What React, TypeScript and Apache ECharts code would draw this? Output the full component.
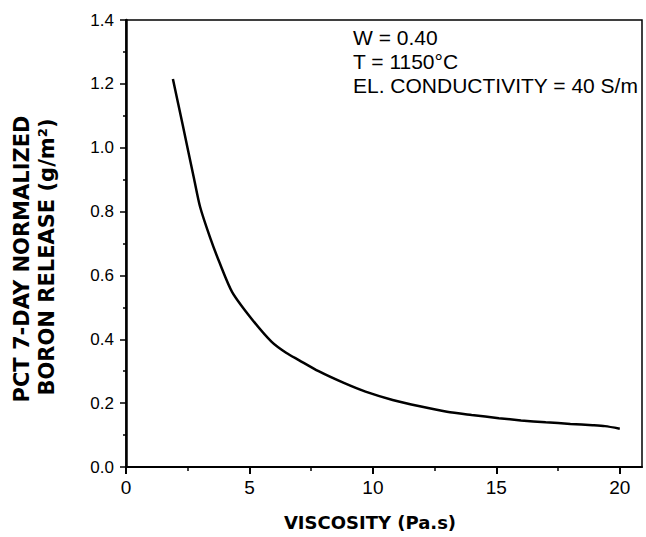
import React, { useEffect, useRef } from "react";
import * as echarts from "echarts";

const viscosity = [1.9, 2.3, 2.75, 3.0, 3.4, 3.8, 4.3, 5.1, 5.9, 6.5, 7.0, 7.8, 8.8, 9.7, 10.8, 11.9, 13.0, 14.0, 15.1, 16.0, 17.0, 18.0, 18.9, 19.4, 20.0];
const boronRelease = [1.215, 1.07, 0.905, 0.815, 0.72, 0.638, 0.548, 0.463, 0.392, 0.357, 0.335, 0.3, 0.264, 0.236, 0.21, 0.19, 0.173, 0.163, 0.153, 0.146, 0.14, 0.135, 0.131, 0.128, 0.12];
const xMajorTicks = [0, 5, 10, 15, 20];
const xMinorTicks = [2.5, 7.5, 12.5, 17.5];
const annotationLines = ["W = 0.40", "T = 1150°C", "EL. CONDUCTIVITY = 40 S/m"];
const xTitle = "VISCOSITY (Pa.s)";
const yTitleLines = ["PCT 7-DAY NORMALIZED", "BORON RELEASE (g/m²)"];

const FONT = "'Liberation Sans', Arial, Helvetica, sans-serif";
const BOLDFONT = "'DejaVu Sans', 'Liberation Sans', Arial, sans-serif";

export default function App() {
  const ref = useRef<HTMLDivElement>(null);
  useEffect(() => {
    if (!ref.current) return;
    const chart = echarts.init(ref.current, null, { renderer: "svg" });
    const data = viscosity.map((v, i) => [v, boronRelease[i]]);
    chart.setOption({
      animation: false,
      backgroundColor: "#ffffff",
      textStyle: { fontFamily: FONT },
      grid: {
        left: 126,
        right: 4,
        top: 20,
        bottom: 70,
        show: true,
        borderColor: "#000",
        borderWidth: 1.5,
        backgroundColor: "transparent",
      },
      xAxis: [
        {
          type: "value",
          min: 0,
          max: 20.9,
          position: "bottom",
          axisLine: { show: true, lineStyle: { color: "#000", width: 2 } },
          axisTick: { show: true, inside: false, length: 7, lineStyle: { color: "#000", width: 2 }, customValues: xMajorTicks },
          axisLabel: { customValues: xMajorTicks, color: "#000", fontSize: 19, margin: 11, fontFamily: FONT },
          splitLine: { show: false },
        },
        {
          type: "value",
          min: 0,
          max: 20.9,
          position: "bottom",
          axisLine: { show: false },
          axisTick: { show: true, inside: false, length: 4, lineStyle: { color: "#000", width: 1.5 }, customValues: xMinorTicks },
          axisLabel: { show: false },
          splitLine: { show: false },
        },
      ],
      yAxis: {
        type: "value",
        min: 0,
        max: 1.4,
        interval: 0.2,
        axisLine: { show: true, lineStyle: { color: "#000", width: 2.5 } },
        axisTick: { show: true, inside: false, length: 6, lineStyle: { color: "#000", width: 1.5 } },
        minorTick: { show: true, splitNumber: 2, length: 3, lineStyle: { color: "#000", width: 1.5 } },
        axisLabel: {
          color: "#000",
          fontSize: 17,
          margin: 12,
          fontFamily: FONT,
          formatter: (v: number) => v.toFixed(1),
        },
        splitLine: { show: false },
      },
      series: [
        {
          type: "line",
          data,
          xAxisIndex: 0,
          smooth: 0.25,
          showSymbol: false,
          lineStyle: { color: "#000", width: 2.5 },
        },
      ],
      graphic: [
        ...annotationLines.map((t, i) => ({
          type: "text",
          x: 353,
          y: 37 + i * 24,
          style: { text: t, fill: "#000", font: `21px ${FONT}`, textAlign: "left", textVerticalAlign: "middle" },
        })),
        {
          type: "text",
          x: 370,
          y: 522,
          style: { text: xTitle, fill: "#000", font: `bold 18px ${BOLDFONT}`, textAlign: "center", textVerticalAlign: "middle" },
        },
        {
          type: "text",
          x: 22,
          y: 259,
          rotation: Math.PI / 2,
          style: { text: yTitleLines[0], fill: "#000", font: `bold 21px ${BOLDFONT}`, textAlign: "center", textVerticalAlign: "middle" },
        },
        {
          type: "text",
          x: 47,
          y: 257,
          rotation: Math.PI / 2,
          style: { text: yTitleLines[1], fill: "#000", font: `bold 21px ${BOLDFONT}`, textAlign: "center", textVerticalAlign: "middle" },
        },
      ],
    });
    return () => chart.dispose();
  }, []);
  return <div ref={ref} style={{ width: 646, height: 537, position: "absolute", left: 0, top: 0 }} />;
}
